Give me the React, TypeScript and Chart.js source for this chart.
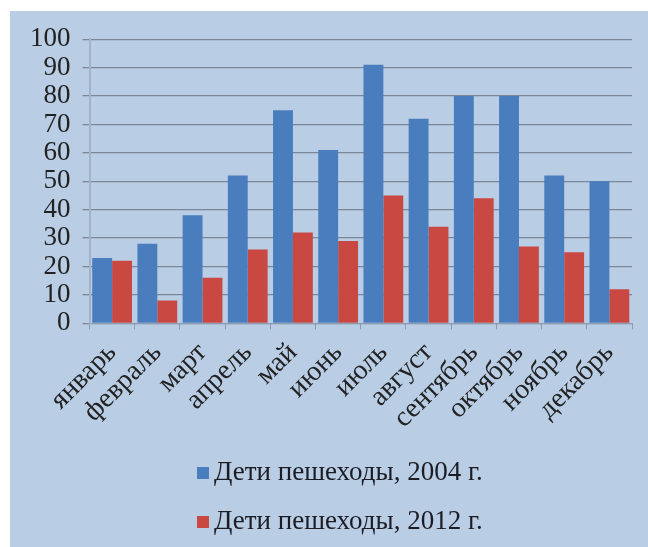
import React, { useEffect, useRef } from "react";
import { Chart, registerables } from "chart.js";

Chart.register(...registerables);

const months = ["январь", "февраль", "март", "апрель", "май", "июнь", "июль", "август", "сентябрь", "октябрь", "ноябрь", "декабрь"];
const series2004 = [23, 28, 38, 52, 75, 61, 91, 72, 80, 80, 52, 50];
const series2012 = [22, 8, 16, 26, 32, 29, 45, 34, 44, 27, 25, 12];
const label2004 = "Дети пешеходы, 2004 г.";
const label2012 = "Дети пешеходы, 2012 г.";

const FONT = "'Liberation Serif', 'Times New Roman', serif";

const legendPlugin = {
  id: "stackedLegend",
  afterDraw(chart: any) {
    const ctx = chart.ctx;
    ctx.save();
    chart.data.datasets.forEach((ds: any, i: number) => {
      const y = chart.height - 74 + i * 49;
      const x = 187;
      ctx.fillStyle = ds.backgroundColor;
      ctx.fillRect(x, y - 6, 12, 12);
      ctx.fillStyle = "#1c1c24";
      ctx.font = `27px ${FONT}`;
      ctx.textBaseline = "middle";
      ctx.textAlign = "left";
      ctx.fillText(ds.label, x + 17, y);
    });
    ctx.restore();
  },
};

export default function App() {
  const ref = useRef<HTMLCanvasElement | null>(null);
  useEffect(() => {
    if (!ref.current) return;
    const chart = new Chart(ref.current, {
      type: "bar",
      data: {
        labels: months,
        datasets: [
          { label: label2004, data: series2004, backgroundColor: "#4a7dbd" },
          { label: label2012, data: series2012, backgroundColor: "#c94842" },
        ],
      },
      options: {
        animation: false,
        responsive: true,
        maintainAspectRatio: false,
        layout: { padding: { top: 15, left: 8, right: 16, bottom: 105 } },
        datasets: { bar: { barPercentage: 1, categoryPercentage: 0.88 } },
        plugins: { legend: { display: false }, tooltip: { enabled: false } },
        scales: {
          x: {
            grid: { display: true, drawOnChartArea: false, drawTicks: true, tickLength: 6, color: "#8c9bb0", offset: true },
            border: { color: "#8c9bb0" },
            ticks: { autoSkip: false, color: "#222", font: { family: FONT, size: 28 }, maxRotation: 45, minRotation: 45, padding: 7 },
          },
          y: {
            min: 0,
            max: 100,
            ticks: { autoSkip: false, stepSize: 10, color: "#222", font: { family: FONT, size: 27 }, padding: 12 },
            grid: { color: "#7a8798", tickLength: 7, lineWidth: 1.3 },
            border: { color: "#a3b2c6", width: 2 },
          },
        },
      },
      plugins: [legendPlugin],
    });
    return () => chart.destroy();
  }, []);
  return (
    <div style={{ position: "fixed", left: 0, top: 0, width: 648, height: 547, background: "#ffffff" }}>
      <div style={{ position: "absolute", left: 10, top: 11, width: 638, height: 536, background: "#b9cde5" }}>
        <canvas ref={ref} />
      </div>
    </div>
  );
}
